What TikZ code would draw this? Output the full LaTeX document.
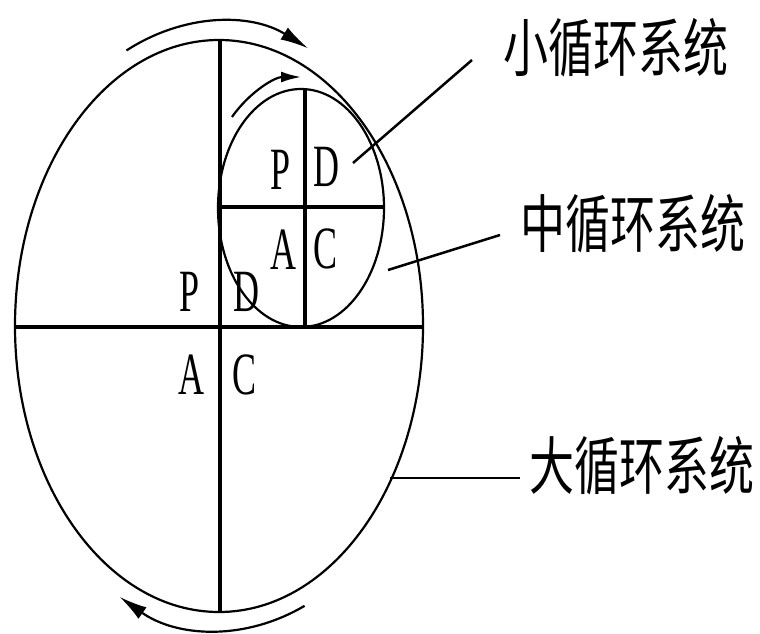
\documentclass[tikz,border=0pt]{standalone}
\usepackage{fontspec}
\setmainfont{Liberation Serif}
\newfontfamily\cjk{Noto Sans CJK SC}
\usetikzlibrary{arrows.meta}
\tikzset{
  thinline/.style={line width=2.2pt},
  axis/.style={line width=4.5pt},
  smallaxis/.style={line width=3.5pt},
  leader/.style={line width=2.5pt},
  turn/.style={line width=2.2pt,-{Latex[length=28pt,width=14pt]}},
  smallturn/.style={line width=2.2pt,-{Latex[length=20pt,width=11pt]}},
  letter/.style={inner sep=0pt,xscale=0.6,font=\fontsize{60}{60}\selectfont},
  cn/.style={inner sep=0pt,yscale=1.4,font=\cjk\fontsize{45}{45}\selectfont}
}
\begin{document}
\begin{tikzpicture}[x=1pt,y=-1pt]
\useasboundingbox (0,0) rectangle (760,634);
% centres
\coordinate (O) at (219,326);
\coordinate (o) at (301,208);
% big ellipse and axes
\draw[thinline] (O) ellipse [x radius=204, y radius=286];
\coordinate (bl) at (15,327);
\coordinate (br) at (423,327);
\coordinate (bt) at (220,40);
\coordinate (bb) at (220,612);
\draw[axis] (bl) -- (br);
\draw[smallaxis] (bt) -- (bb);
% small ellipse and axes
\draw[thinline] (o) ellipse [x radius=83, y radius=119];
\coordinate (st) at (305,89);
\coordinate (sb) at (305,327);
\coordinate (sl) at (220,207);
\coordinate (sr) at (383,207);
\draw[smallaxis] (st) -- (sb);
\draw[smallaxis] (sl) -- (sr);
% rotation arrows
\draw[turn] ([shift={(115:219 and -304)}]O) arc [start angle=115, end angle=66, x radius=219, y radius=-304];
\draw[turn] ([shift={(-67:219 and -304)}]O) arc [start angle=-67, end angle=-117, x radius=219, y radius=-304];
\draw[smallturn] ([shift={(136:96 and -131)}]o) arc [start angle=136, end angle=90, x radius=96, y radius=-131];
% letters, large system
\node[letter] (BP) at (190,292) {P};
\node[letter] (BD) at (246,292) {D};
\node[letter] (BA) at (191,375) {A};
\node[letter] (BC) at (245,375) {C};
% letters, small system
\node[letter] (SP) at (281,170) {P};
\node[letter] (SD) at (326,167) {D};
\node[letter] (SA) at (283,250) {A};
\node[letter] (SC) at (326,249) {C};
% labels
\node[cn] (L1) at (616,48) {小循环系统};
\node[cn] (L2) at (633,224) {中循环系统};
\node[cn] (L3) at (642,466) {大循环系统};
\coordinate (a1) at (353,163);
\coordinate (e1) at (472,60);
\coordinate (a2) at (388,270);
\coordinate (e2) at (500,235);
\coordinate (a3) at (390,478);
\coordinate (e3) at (520,478);
\draw[leader] (a1) -- (e1);
\draw[leader] (a2) -- (e2);
\draw[leader] (a3) -- (e3);
\end{tikzpicture}
\end{document}
